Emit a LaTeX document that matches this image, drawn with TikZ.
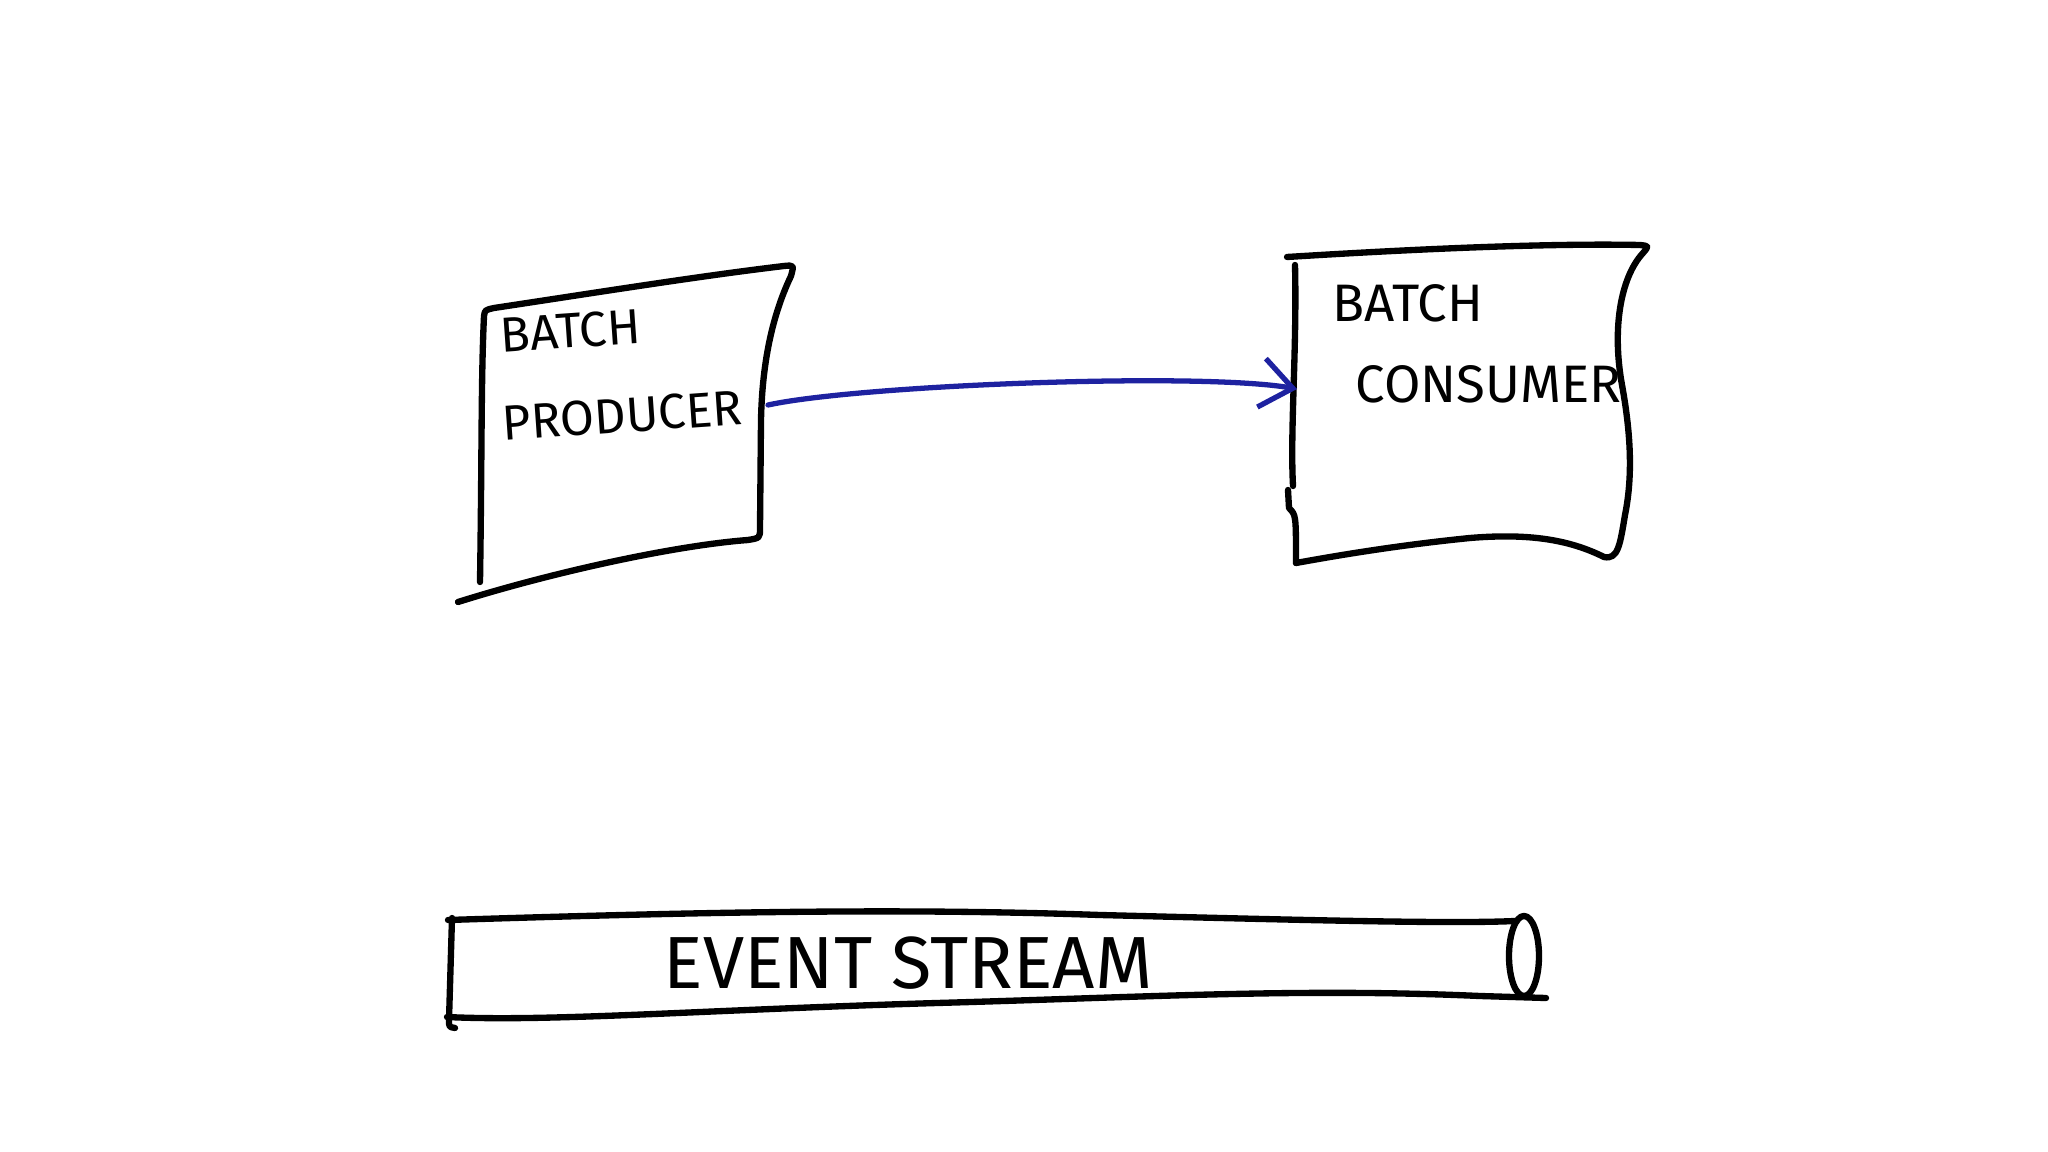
\documentclass[tikz,border=0pt]{standalone}
\usepackage{fontspec}
\setmainfont{Fira Sans}
\usetikzlibrary{arrows.meta}
\definecolor{penblue}{RGB}{30,34,160}

\begin{document}
\begin{tikzpicture}[x=0.01cm,y=-0.01cm,
  pen/.style={line width=1.8pt,line cap=round,line join=round},
  lbl/.style={font=\fontsize{14}{16}\selectfont,inner sep=0pt,anchor=west},
  flow/.style={pen,line width=1.5pt,draw=penblue,-{Straight Barb[length=9pt,width=14pt]}}]
\useasboundingbox[fill=white] (0,0) rectangle (2048,1152);
% batch producer
\draw[pen] (480,582) .. controls (482,450) and (481,380) .. (484,316) .. controls (485,310) .. (494,308)
  .. controls (600,292) and (700,276) .. (784,266) .. controls (794,265) .. (791,276)
  .. controls (770,320) and (762,370) .. (761,420) -- (760,528) .. controls (760,538) .. (748,540)
  .. controls (680,545) and (560,570) .. (458,602);
\node[lbl,rotate=4] (prodTop) at (500,336) {BATCH};
\node[lbl,rotate=4] (prodName) at (502,424) {PRODUCER};
% batch consumer
\draw[pen] (1287,257) .. controls (1400,250) and (1540,243) .. (1640,245) .. controls (1649,246) .. (1643,253)
  .. controls (1620,278) and (1612,330) .. (1622,385) .. controls (1632,440) and (1632,480) .. (1625,515)
  .. controls (1620,545) and (1618,560) .. (1604,557) .. controls (1570,540) and (1530,533) .. (1470,538)
  .. controls (1400,545) and (1340,555) .. (1296,563);
\draw[pen] (1295,265) .. controls (1297,350) and (1290,430) .. (1293,486);
\draw[pen] (1288,490) -- (1289,508) .. controls (1296,515) .. (1296,563);
\node[lbl,font=\fontsize{15}{17}\selectfont] (consTop) at (1332,303) {BATCH};
\node[lbl,font=\fontsize{15}{17}\selectfont] (consName) at (1355,384) {CONSUMER};
% batch flow
\coordinate (prodOut) at (768,405);
\coordinate (consIn) at (1297,389);
\draw[flow] (prodOut) .. controls (860,385) and (1200,372) .. (consIn);
% event stream
\draw[pen] (448,920) .. controls (700,912) and (900,908) .. (1100,915) .. controls (1300,920) and (1450,924) .. (1515,921);
\draw[pen] (452,918) -- (449,1020) .. controls (449,1027) .. (455,1028);
\draw[pen] (447,1017) .. controls (550,1022) and (700,1010) .. (937,1003) .. controls (1150,997) and (1300,988) .. (1480,996) -- (1546,998);
\draw[pen] (1524,956) ellipse [x radius=0.15cm,y radius=0.4cm];
\node[font=\fontsize{21}{24}\selectfont] (streamLbl) at (908,963) {EVENT STREAM};
\end{tikzpicture}
\end{document}
